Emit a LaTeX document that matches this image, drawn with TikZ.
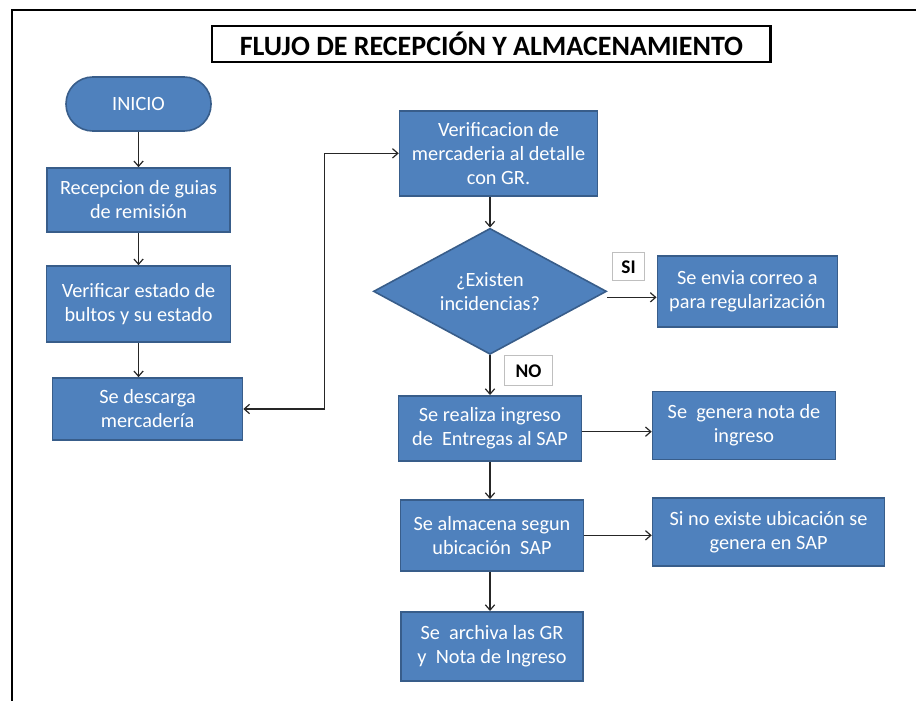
\documentclass[tikz,border=0pt]{standalone}
\usepackage{fontspec}
\setmainfont{Carlito}
\usepackage{tikz}
\usetikzlibrary{shapes.geometric, positioning, arrows.meta}

\definecolor{boxfill}{HTML}{4F81BD}
\definecolor{boxline}{HTML}{385D8A}

\begin{document}
\begin{tikzpicture}[on grid, >={Straight Barb[length=4pt,width=7pt]},
    proc/.style={rectangle, draw=boxline, fill=boxfill, line width=1.2pt, text=white,
                 align=center, inner sep=0pt, font=\fontsize{15.2pt}{18pt}\selectfont},
    term/.style={proc, rounded corners=20pt},
    dec/.style={proc, diamond, aspect=1.85},
    tag/.style={rectangle, draw=black!25, fill=white, line width=0.8pt, inner sep=0pt,
                font=\bfseries\fontsize{14.5pt}{17pt}\selectfont},
    flow/.style={->, draw=black!85, line width=0.9pt}]
      \useasboundingbox (0,0) rectangle (687pt,-525pt);
      \draw[line width=2pt] (9pt,-7.5pt) rectangle (700pt,-540pt);

      \node[draw, line width=2pt, minimum width=419pt, minimum height=27pt, inner sep=0pt,
            font=\bfseries\fontsize{21pt}{24pt}\selectfont] (title) at (368.6pt,-33pt)
            {FLUJO DE RECEPCIÓN Y ALMACENAMIENTO};

      \node[term, minimum width=108.75pt, minimum height=40.5pt] (ini) at (103.9pt,-78pt) {INICIO};
      \node[proc, minimum width=137.25pt, minimum height=48pt] (rec) [below=72pt of ini]
            {Recepcion de guias\\de remisión};
      \node[proc, minimum width=138pt, minimum height=57pt] (ver) [below=78pt of rec]
            {Verificar estado de\\bultos y su estado};
      \node[proc, minimum width=142.5pt, minimum height=46.5pt] (des) [below right=78.75pt and 6.75pt of ver]
            {Se descarga\\mercadería};

      \node[proc, minimum width=148.5pt, minimum height=63.75pt] (det) [below right=37pt and 270pt of ini]
            {Verificacion de\\mercaderia al detalle\\con GR.};
      \node[dec, minimum width=174.75pt, minimum height=94.5pt] (inc) [below left=103.5pt and 6.4pt of det]
            {¿Existen\\incidencias?};
      \node[proc, minimum width=135pt, minimum height=53.25pt] (cor) [right=193pt of inc]
            {Se envia correo a\\para regularización};
      \node[proc, minimum width=137.25pt, minimum height=48.75pt] (ing) [below=102.75pt of inc]
            {Se realiza ingreso\\de\ \ Entregas al SAP};
      \node[proc, minimum width=137.25pt, minimum height=51pt] (nota) [above right=2pt and 190.5pt of ing]
            {Se\ \ genera nota de\\ingreso};
      \node[proc, minimum width=137.25pt, minimum height=53.25pt] (alm) [below right=80.25pt and 1.5pt of ing]
            {Se almacena segun\\ubicación\ \ SAP};
      \node[proc, minimum width=174pt, minimum height=51pt] (ubi) [above right=2.6pt and 207.4pt of alm]
            {Si no existe ubicación se\\genera en SAP};
      \node[proc, minimum width=136.5pt, minimum height=51.75pt] (arc) [below=83.25pt of alm]
            {Se\ \ archiva las GR\\y\ \ Nota de Ingreso};

      \node[tag, minimum width=24pt, minimum height=21pt] (si) [above right=18.4pt and 103.9pt of inc] {SI};
      \node[tag, minimum width=36pt, minimum height=22.5pt] (no) [below right=59.6pt and 28.9pt of inc] {NO};

      \path[flow] (ini) edge (rec)
                  (rec) edge (ver);
      \draw[flow] (ver.south) -- (ver.south |- des.north);
      \draw[flow, <->] (des.east) -- ++(60.75pt,0) |- (det.west);
      \draw[flow] (det.south -| inc.north) -- (inc.north);
      \draw[flow] ([yshift=-4.5pt]inc.east) -- ([yshift=-4.5pt]inc.east -| cor.west);
      \draw[flow] (inc.south) -- (inc.south |- ing.north);
      \draw[flow] ([yshift=-2.5pt]ing.east) -- ([yshift=-2.5pt]ing.east -| nota.west);
      \draw[flow] (ing.south) -- (ing.south |- alm.north);
      \draw[flow] (alm.east) -- (alm.east -| ubi.west);
      \draw[flow] (alm.south -| ing.south) -- (ing.south |- arc.north);
    \end{tikzpicture}
\end{document}
